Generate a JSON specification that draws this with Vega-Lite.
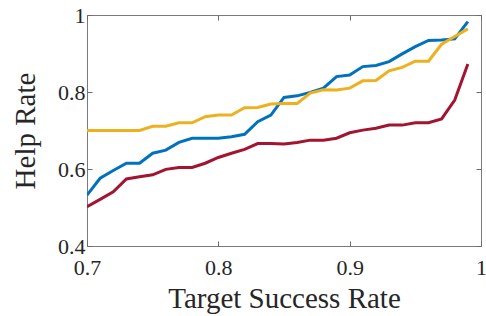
{
  "$schema": "https://vega.github.io/schema/vega-lite/v6.json",
  "width": 394,
  "height": 231,
  "autosize": {"type": "none"},
  "padding": {"left": 87, "top": 15, "right": 5, "bottom": 70},
  "config": {
    "view": {"stroke": "#7a7a7a", "strokeWidth": 1},
    "font": "Liberation Serif",
    "axis": {
      "domain": false,
      "grid": false,
      "tickColor": "#6a6a6a",
      "tickSize": -5,
      "tickWidth": 1,
      "labelFlush": false,
      "labelFont": "Liberation Serif",
      "titleFont": "Liberation Serif",
      "labelColor": "#262626",
      "titleColor": "#262626",
      "labelFontSize": 22,
      "titleFontSize": 29,
      "titleFontWeight": "normal"
    }
  },
  "data": {
    "values": [
      {"x": 0.70, "s": "blue", "y": 0.532}, {"x": 0.71, "s": "blue", "y": 0.576}, {"x": 0.72, "s": "blue", "y": 0.596},
      {"x": 0.73, "s": "blue", "y": 0.615}, {"x": 0.74, "s": "blue", "y": 0.615}, {"x": 0.75, "s": "blue", "y": 0.641},
      {"x": 0.76, "s": "blue", "y": 0.649}, {"x": 0.77, "s": "blue", "y": 0.669}, {"x": 0.78, "s": "blue", "y": 0.680},
      {"x": 0.79, "s": "blue", "y": 0.680}, {"x": 0.80, "s": "blue", "y": 0.680}, {"x": 0.81, "s": "blue", "y": 0.684},
      {"x": 0.82, "s": "blue", "y": 0.690}, {"x": 0.83, "s": "blue", "y": 0.723}, {"x": 0.84, "s": "blue", "y": 0.740},
      {"x": 0.85, "s": "blue", "y": 0.786}, {"x": 0.86, "s": "blue", "y": 0.790}, {"x": 0.87, "s": "blue", "y": 0.799},
      {"x": 0.88, "s": "blue", "y": 0.810}, {"x": 0.89, "s": "blue", "y": 0.840}, {"x": 0.90, "s": "blue", "y": 0.844},
      {"x": 0.91, "s": "blue", "y": 0.866}, {"x": 0.92, "s": "blue", "y": 0.869}, {"x": 0.93, "s": "blue", "y": 0.879},
      {"x": 0.94, "s": "blue", "y": 0.899}, {"x": 0.95, "s": "blue", "y": 0.918}, {"x": 0.96, "s": "blue", "y": 0.934},
      {"x": 0.97, "s": "blue", "y": 0.935}, {"x": 0.98, "s": "blue", "y": 0.938}, {"x": 0.99, "s": "blue", "y": 0.983},
      {"x": 0.70, "s": "yellow", "y": 0.700}, {"x": 0.71, "s": "yellow", "y": 0.700}, {"x": 0.72, "s": "yellow", "y": 0.700},
      {"x": 0.73, "s": "yellow", "y": 0.700}, {"x": 0.74, "s": "yellow", "y": 0.700}, {"x": 0.75, "s": "yellow", "y": 0.711},
      {"x": 0.76, "s": "yellow", "y": 0.711}, {"x": 0.77, "s": "yellow", "y": 0.720}, {"x": 0.78, "s": "yellow", "y": 0.720},
      {"x": 0.79, "s": "yellow", "y": 0.736}, {"x": 0.80, "s": "yellow", "y": 0.740}, {"x": 0.81, "s": "yellow", "y": 0.740},
      {"x": 0.82, "s": "yellow", "y": 0.759}, {"x": 0.83, "s": "yellow", "y": 0.760}, {"x": 0.84, "s": "yellow", "y": 0.769},
      {"x": 0.85, "s": "yellow", "y": 0.770}, {"x": 0.86, "s": "yellow", "y": 0.770}, {"x": 0.87, "s": "yellow", "y": 0.797},
      {"x": 0.88, "s": "yellow", "y": 0.806}, {"x": 0.89, "s": "yellow", "y": 0.805}, {"x": 0.90, "s": "yellow", "y": 0.810},
      {"x": 0.91, "s": "yellow", "y": 0.829}, {"x": 0.92, "s": "yellow", "y": 0.830}, {"x": 0.93, "s": "yellow", "y": 0.855},
      {"x": 0.94, "s": "yellow", "y": 0.864}, {"x": 0.95, "s": "yellow", "y": 0.880}, {"x": 0.96, "s": "yellow", "y": 0.880},
      {"x": 0.97, "s": "yellow", "y": 0.924}, {"x": 0.98, "s": "yellow", "y": 0.944}, {"x": 0.99, "s": "yellow", "y": 0.964},
      {"x": 0.70, "s": "red", "y": 0.502}, {"x": 0.71, "s": "red", "y": 0.521}, {"x": 0.72, "s": "red", "y": 0.541},
      {"x": 0.73, "s": "red", "y": 0.574}, {"x": 0.74, "s": "red", "y": 0.580}, {"x": 0.75, "s": "red", "y": 0.585},
      {"x": 0.76, "s": "red", "y": 0.599}, {"x": 0.77, "s": "red", "y": 0.604}, {"x": 0.78, "s": "red", "y": 0.604},
      {"x": 0.79, "s": "red", "y": 0.615}, {"x": 0.80, "s": "red", "y": 0.630}, {"x": 0.81, "s": "red", "y": 0.641},
      {"x": 0.82, "s": "red", "y": 0.651}, {"x": 0.83, "s": "red", "y": 0.666}, {"x": 0.84, "s": "red", "y": 0.666},
      {"x": 0.85, "s": "red", "y": 0.665}, {"x": 0.86, "s": "red", "y": 0.669}, {"x": 0.87, "s": "red", "y": 0.675},
      {"x": 0.88, "s": "red", "y": 0.675}, {"x": 0.89, "s": "red", "y": 0.680}, {"x": 0.90, "s": "red", "y": 0.694},
      {"x": 0.91, "s": "red", "y": 0.701}, {"x": 0.92, "s": "red", "y": 0.706}, {"x": 0.93, "s": "red", "y": 0.714},
      {"x": 0.94, "s": "red", "y": 0.714}, {"x": 0.95, "s": "red", "y": 0.720}, {"x": 0.96, "s": "red", "y": 0.720},
      {"x": 0.97, "s": "red", "y": 0.730}, {"x": 0.98, "s": "red", "y": 0.779}, {"x": 0.99, "s": "red", "y": 0.873}
    ]
  },
  "layer": [
    {
      "mark": {"type": "line", "strokeWidth": 3, "clip": true},
      "encoding": {
        "x": {
          "field": "x", "type": "quantitative",
          "scale": {"domain": [0.7, 1], "nice": false, "zero": false},
          "axis": {"orient": "bottom", "values": [0.7, 0.8, 0.9, 1], "format": "~g", "title": "Target Success Rate", "labelPadding": 16, "titlePadding": 6}
        },
        "y": {
          "field": "y", "type": "quantitative",
          "scale": {"domain": [0.4, 1], "nice": false, "zero": false},
          "axis": {"orient": "left", "values": [0.4, 0.6, 0.8, 1], "format": "~g", "title": "Help Rate", "labelPadding": 7, "titlePadding": 17}
        },
        "color": {
          "field": "s", "type": "nominal", "legend": null,
          "scale": {"domain": ["blue", "yellow", "red"], "range": ["#0072BD", "#EDB120", "#A2142F"]}
        },
        "order": {"field": "x", "type": "quantitative"}
      }
    },
    {
      "mark": {"type": "point", "opacity": 0},
      "encoding": {
        "x": {
          "field": "x", "type": "quantitative",
          "scale": {"domain": [0.7, 1], "nice": false, "zero": false},
          "axis": {"orient": "top", "values": [0.7, 0.8, 0.9, 1], "labels": false, "title": null}
        },
        "y": {
          "field": "y", "type": "quantitative",
          "scale": {"domain": [0.4, 1], "nice": false, "zero": false},
          "axis": {"orient": "right", "values": [0.4, 0.6, 0.8, 1], "labels": false, "title": null}
        }
      }
    }
  ],
  "resolve": {"axis": {"x": "independent", "y": "independent"}}
}
